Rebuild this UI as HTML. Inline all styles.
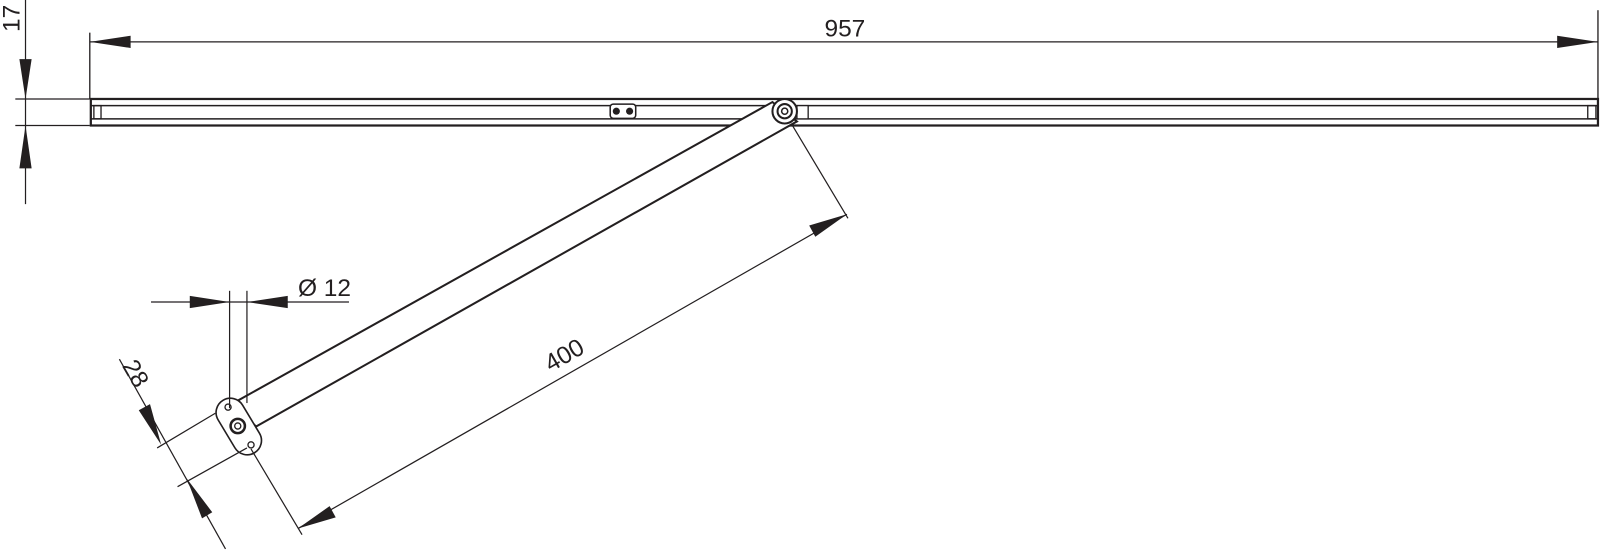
<!DOCTYPE html>
<html><head><meta charset="utf-8"><style>html,body{margin:0;padding:0;background:#fff}svg{display:block}</style></head><body>
<svg width="1600" height="551" viewBox="0 0 1568 540" preserveAspectRatio="none" xmlns="http://www.w3.org/2000/svg" font-family="Liberation Sans, sans-serif">
<g stroke="#231f20" fill="none">
<!-- 957 dim -->
<line x1="88" y1="32" x2="88" y2="97" stroke-width="1.3"/>
<line x1="1566" y1="10" x2="1566" y2="97" stroke-width="1.3"/>
<line x1="88" y1="41" x2="1566" y2="41" stroke-width="1.2"/>
<!-- 17 dim -->
<line x1="25" y1="0" x2="25" y2="200" stroke-width="1.2"/>
<line x1="15" y1="97" x2="88" y2="97" stroke-width="1.2"/>
<line x1="15" y1="123" x2="88" y2="123" stroke-width="1.2"/>
<!-- rail -->
<rect x="89" y="97" width="1477" height="26" stroke-width="2.2"/>
<line x1="89" y1="103.5" x2="1566" y2="103.5" stroke-width="1.5"/>
<line x1="89" y1="116.5" x2="1566" y2="116.5" stroke-width="1.5"/>
<rect x="92" y="103.5" width="7" height="13" stroke-width="1.3"/>
<rect x="1556" y="103.5" width="8" height="13" stroke-width="1.3"/>
<rect x="781" y="103.5" width="11" height="13" stroke-width="1.3" fill="#fff"/>
<rect x="598" y="102" width="25" height="14" rx="3" stroke-width="1.5" fill="#fff"/>
<!-- arm -->
<polygon points="227,396 757,100 781,119 251,418" fill="#fff" stroke-width="2"/>
<circle cx="769" cy="109" r="12" fill="#fff" stroke-width="2"/>
<circle cx="769" cy="109" r="7" stroke-width="2"/>
<circle cx="769" cy="109" r="3" stroke-width="1.5"/>
<!-- oval plate -->
<g transform="translate(234,418) rotate(59)">
<rect x="-30" y="-14" width="60" height="28" rx="14" fill="#fff" stroke-width="1.6"/>
</g>
<circle cx="223.5" cy="399" r="3" stroke-width="1.3"/>
<circle cx="246" cy="436" r="3" stroke-width="1.3"/>
<circle cx="233" cy="417.5" r="7" stroke-width="2.5"/>
<circle cx="233" cy="417.5" r="3" stroke-width="1.3"/>
<!-- Ø12 dim -->
<line x1="225" y1="285" x2="225" y2="400" stroke-width="1.2"/>
<line x1="242" y1="285" x2="242" y2="395" stroke-width="1.2"/>
<line x1="148" y1="296" x2="342" y2="296" stroke-width="1.2"/>
<!-- 28 dim -->
<line x1="117" y1="352" x2="221" y2="538" stroke-width="1.2"/>
<line x1="154" y1="439" x2="211" y2="405" stroke-width="1.2"/>
<line x1="174" y1="477" x2="242" y2="439" stroke-width="1.2"/>
<!-- 400 dim -->
<line x1="292" y1="518" x2="830" y2="210" stroke-width="1.2"/>
<line x1="246" y1="440" x2="296" y2="524" stroke-width="1.2"/>
<line x1="776" y1="122" x2="831" y2="214" stroke-width="1.2"/>
</g>
<g fill="#231f20">
<circle cx="604" cy="109" r="3.5"/>
<circle cx="617" cy="109" r="3.5"/>
<polygon points="88,41 128,35 128,47"/>
<polygon points="1566,41 1526,35 1526,47"/>
<polygon points="25,97 19,58 31,58"/>
<polygon points="25,123 19,165 31,165"/>
<polygon points="225,296 186,290 186,302"/>
<polygon points="242,296 282,290 282,302"/>
<polygon points="158,436 136,402 147,396"/>
<polygon points="183,469 198,508 208,502"/>
<polygon points="292,518 323,496 329,507"/>
<polygon points="830,210 799,232 793,221"/>
</g>
<g fill="#231f20" font-size="24">
<text x="828" y="36" text-anchor="middle">957</text>
<text x="292" y="290">Ø 12</text>
<text transform="translate(19,18) rotate(-90)" text-anchor="middle">17</text>
<text transform="translate(126,370) rotate(60)" text-anchor="middle">28</text>
<text transform="translate(557,355) rotate(-30)" text-anchor="middle">400</text>
</g>
</svg>
</body></html>
